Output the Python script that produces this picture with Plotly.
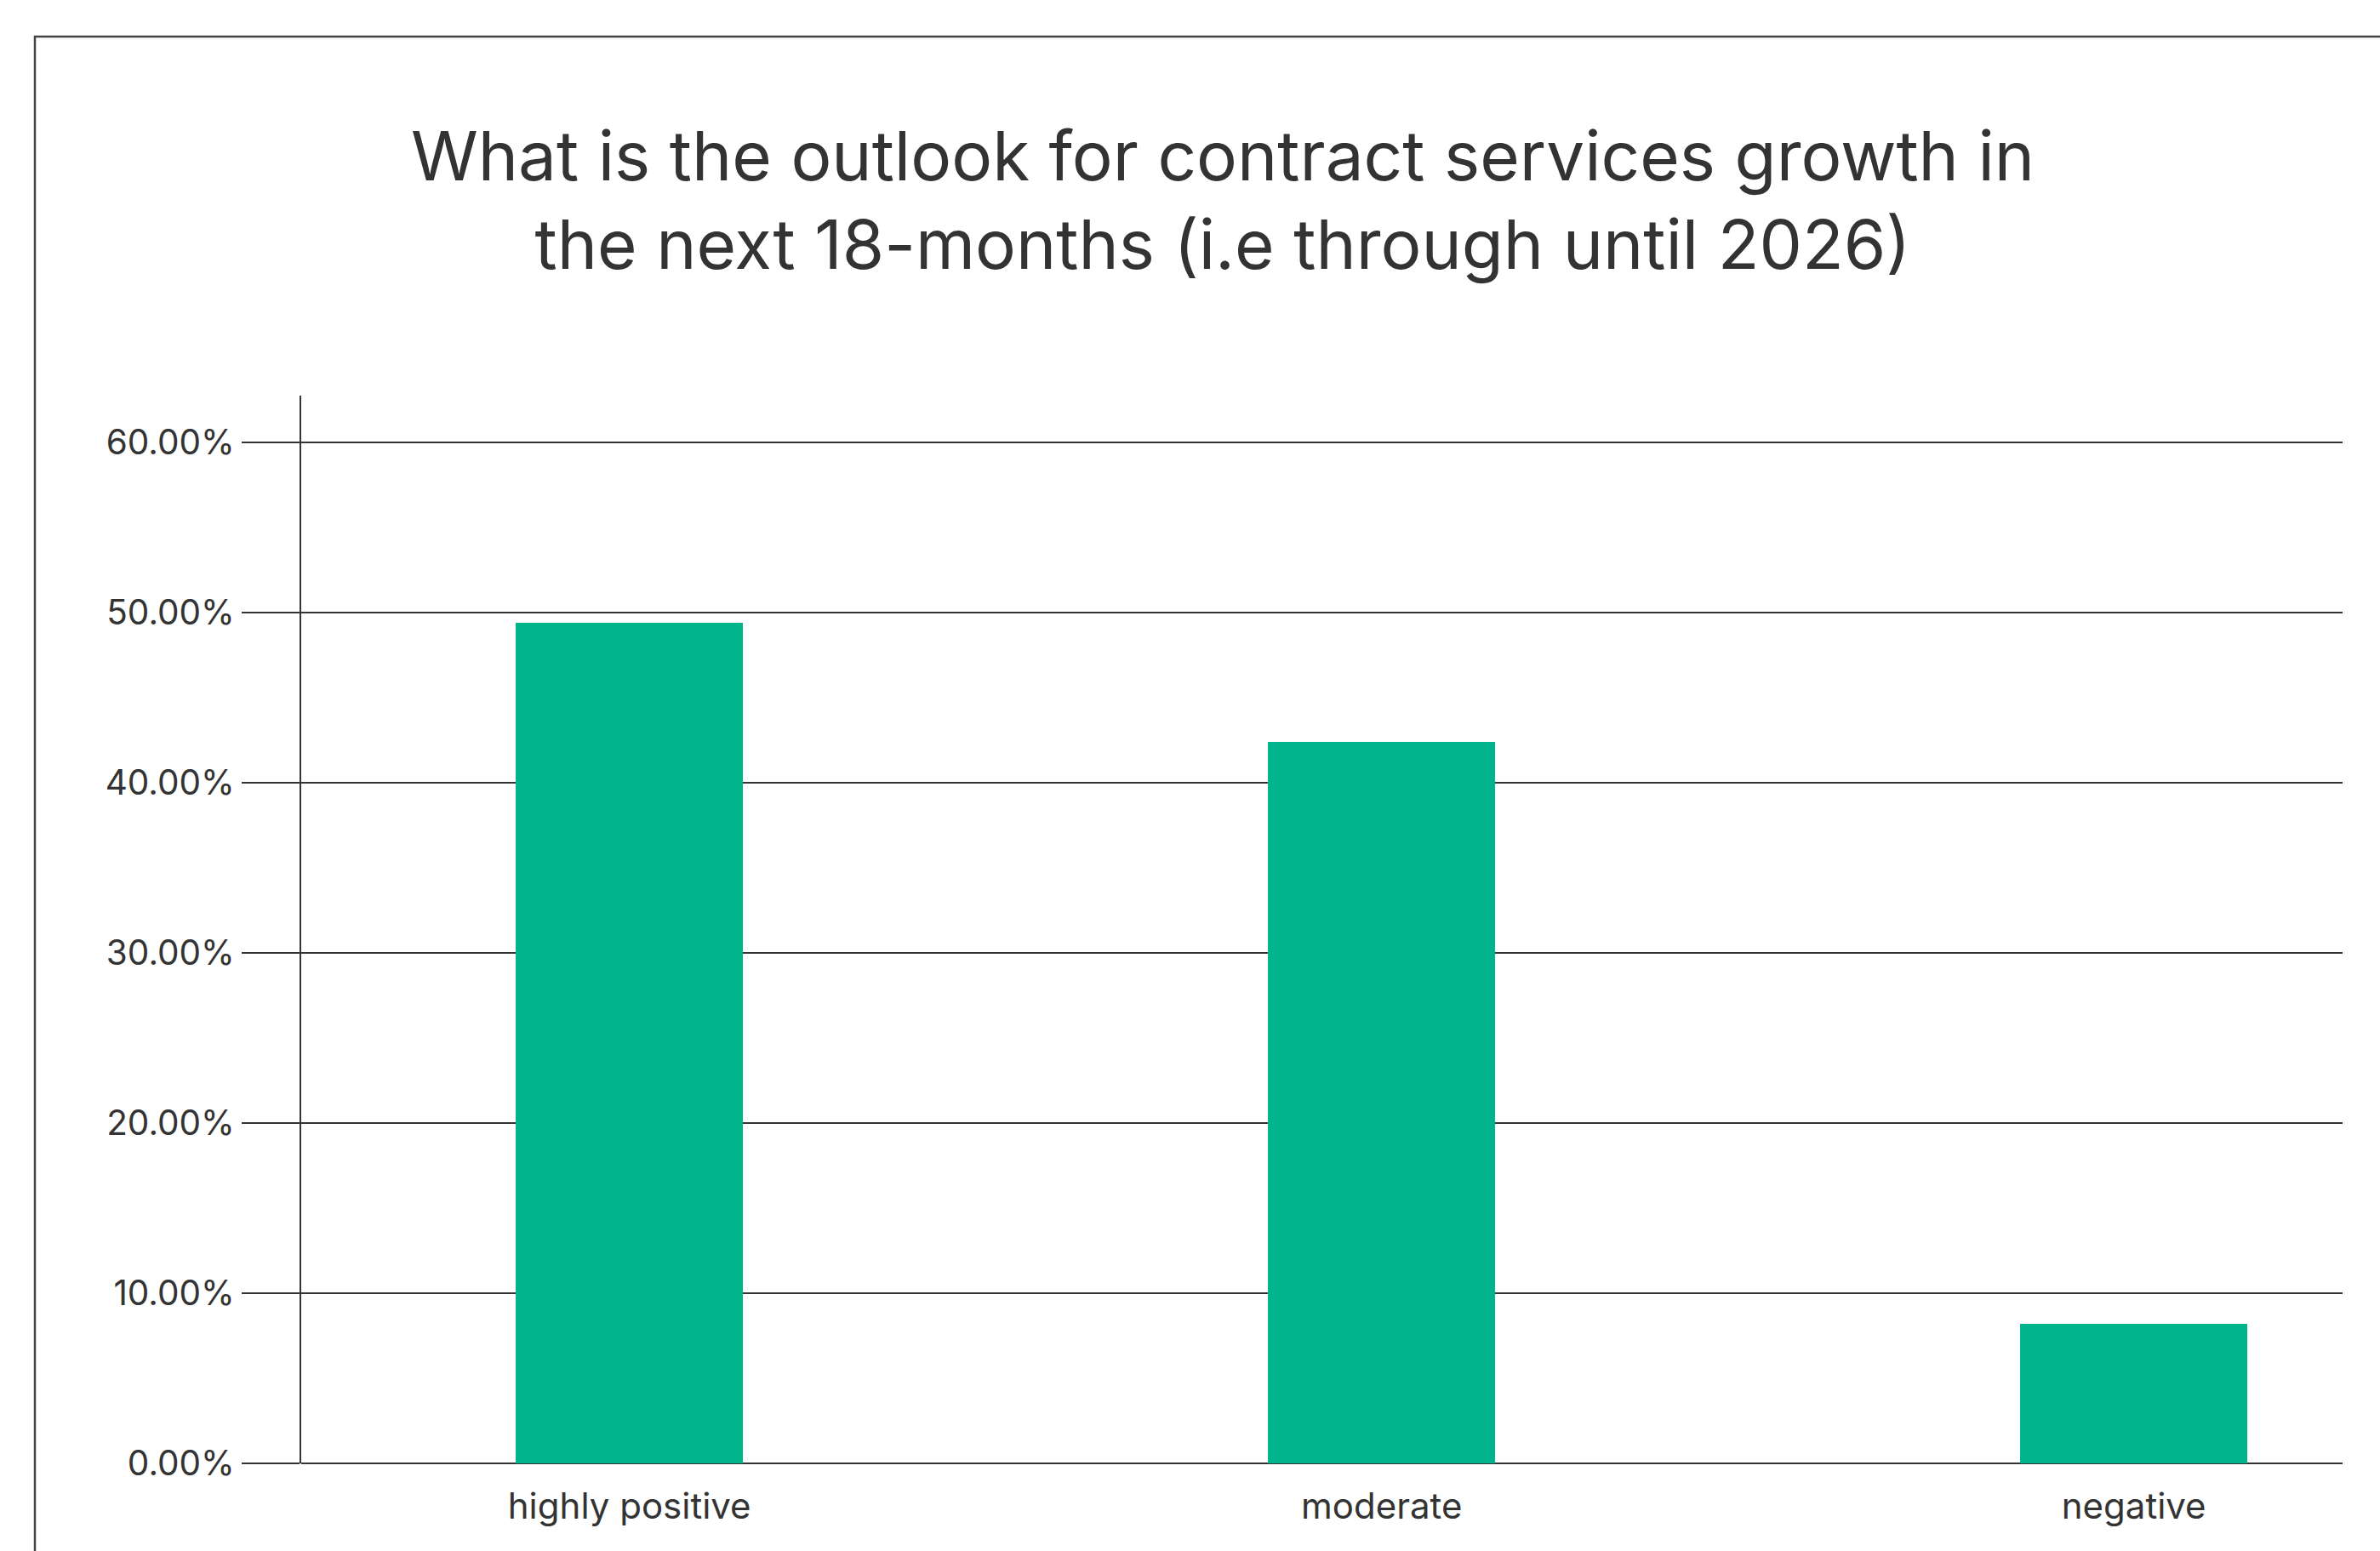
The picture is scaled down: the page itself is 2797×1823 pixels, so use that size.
import plotly.graph_objects as go

# Survey responses: outlook for contract services growth
categories = ["highly positive", "moderate", "negative"]
shares = [49.4, 42.4, 8.2]  # percent of respondents

tick_values = [0, 10, 20, 30, 40, 50, 60]
tick_labels = ["0.00%", "10.00%", "20.00%", "30.00%", "40.00%", "50.00%", "60.00%"]

title_text = ("What is the outlook for contract services growth in<br>"
              "the next 18-months (i.e through until 2026)")

W, H = 2797, 1823
L, R, T, B = 354, 44, 465, 103
INK = "#333333"
BAR = "#01B48C"
FONT = "Inter, Roboto, sans-serif"

fig = go.Figure(
    go.Bar(
        x=categories,
        y=shares,
        width=0.3017,
        marker=dict(color=BAR, line=dict(width=0)),
        hovertemplate="%{x}: %{y:.2f}%<extra></extra>",
    )
)

plot_w = W - L - R
plot_h = H - T - B


def px_x(px):
    return (px - L) / plot_w


def px_y(py):
    return (H - B - py) / plot_h


# outer frame around the whole card (runs past the right and bottom edges)
fig.add_shape(
    type="rect", xref="paper", yref="paper",
    x0=px_x(41), x1=px_x(2833), y0=px_y(1860), y1=px_y(43),
    line=dict(color="#444444", width=2.5), fillcolor="rgba(0,0,0,0)",
    layer="below",
)

fig.update_layout(
    width=W, height=H,
    margin=dict(l=L, r=R, t=T, b=B, pad=0),
    paper_bgcolor="white", plot_bgcolor="white",
    showlegend=False,
    bargap=0,
    font=dict(family=FONT, color=INK),
    title=dict(
        text=title_text,
        x=1437 / W, xref="container", xanchor="center",
        y=1 - 212 / H, yref="container", yanchor="middle",
        font=dict(family=FONT, size=80, color=INK),
    ),
    xaxis=dict(
        type="category",
        range=[-0.4363, 2.2775],
        showgrid=False, zeroline=False, showline=False,
        ticks="",
        tickfont=dict(family=FONT, size=42, color=INK),
        ticklabelstandoff=22,
        fixedrange=True,
    ),
    yaxis=dict(
        range=[0, 62.75],
        tickmode="array", tickvals=tick_values, ticktext=tick_labels,
        showgrid=True, gridcolor=INK, gridwidth=2,
        zeroline=True, zerolinecolor=INK, zerolinewidth=2,
        showline=True, linecolor=INK, linewidth=2,
        ticks="outside", ticklen=68, tickwidth=2, tickcolor=INK,
        tickfont=dict(family=FONT, size=40.5, color=INK),
        ticklabelstandoff=0,
        fixedrange=True,
    ),
)

fig.write_html("out.html")
